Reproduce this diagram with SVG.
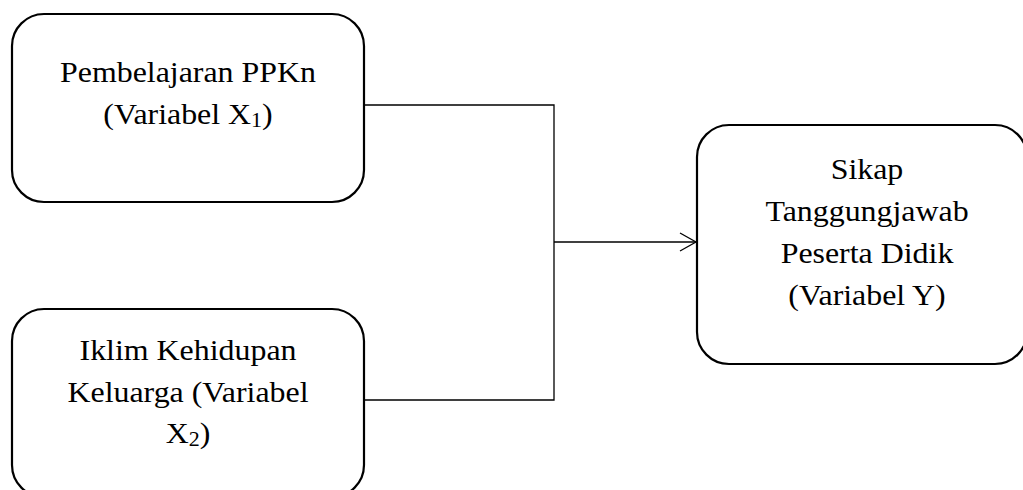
<svg xmlns="http://www.w3.org/2000/svg" width="1023" height="490" viewBox="0 0 1023 490">
<style>
.box{fill:#fff;stroke:#000;stroke-width:2.2}
.t{font-family:"Liberation Serif","Times New Roman",serif;font-size:29px;fill:#000;text-anchor:middle}
.sub{font-size:20px}
.c{fill:none;stroke:#000;stroke-width:1.3}
</style>
<defs>
<marker id="arr" markerWidth="20" markerHeight="20" refX="17" refY="10" orient="auto" markerUnits="userSpaceOnUse">
<path d="M1,1 L17,10 L1,19" fill="none" stroke="#000" stroke-width="1.3"/>
</marker>
</defs>
<g id="connectors">
<path class="c" d="M364,105 H554 V400 H364"/>
<path class="c" d="M554,242 H696" marker-end="url(#arr)"/>
</g>
<g id="node-x1">
<rect class="box" x="12" y="14" width="352" height="188" rx="32" ry="32"/>
<g transform="translate(188 0) scale(1.1 1)">
<text class="t" x="0" y="82">Pembelajaran PPKn</text>
<text class="t" x="0" y="124">(Variabel X<tspan class="sub" dy="3">1</tspan><tspan dy="-3">)</tspan></text>
</g>
</g>
<g id="node-x2">
<rect class="box" x="12" y="309" width="352" height="188" rx="32" ry="32"/>
<g transform="translate(188 0) scale(1.1 1)">
<text class="t" x="0" y="360">Iklim Kehidupan</text>
<text class="t" x="0" y="402">Keluarga (Variabel</text>
<text class="t" x="0" y="443">X<tspan class="sub" dy="3">2</tspan><tspan dy="-3">)</tspan></text>
</g>
</g>
<g id="node-y">
<rect class="box" x="697" y="125" width="330" height="239" rx="32" ry="32"/>
<g transform="translate(867 0) scale(1.1 1)">
<text class="t" x="0" y="179">Sikap</text>
<text class="t" x="0" y="221">Tanggungjawab</text>
<text class="t" x="0" y="263">Peserta Didik</text>
<text class="t" x="0" y="305">(Variabel Y)</text>
</g>
</g>
</svg>
